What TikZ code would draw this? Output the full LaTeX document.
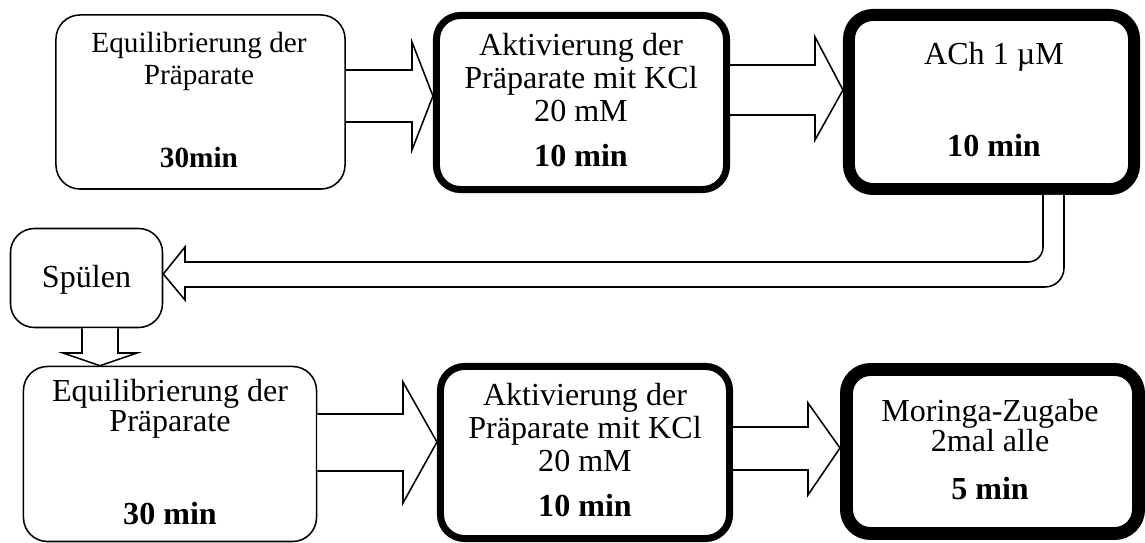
\documentclass[tikz,border=0pt]{standalone}
\usepackage{fontspec}
\setmainfont{Liberation Serif}
\usepackage{tikz}
\usetikzlibrary{calc}

\begin{document}
\begin{tikzpicture}[x=0.025cm, y=-0.025cm,
    every node/.style={font=\fontsize{22.8}{23.5}\selectfont},
    stepbox/.style={draw, fill=white, rounded corners=0.6cm, inner sep=0pt},
    steptext/.style={align=center, anchor=base, inner sep=0pt},
    smalltext/.style={font=\fontsize{20.8}{22.8}\selectfont},
    tighttext/.style={font=\fontsize{22.8}{21.5}\selectfont},
    blockarrow/.style={draw, fill=white, line width=1.1pt, line join=miter}]
  \useasboundingbox (0,0) rectangle (1145,543);
  % boxes
  \node[stepbox, line width=1.1pt, minimum width=7.225cm, minimum height=4.35cm] (equi1) at (200.5,102) {};
  \node[stepbox, line width=5pt, minimum width=7.25cm, minimum height=4.35cm] (kcl1) at (581.5,102.5) {};
  \node[stepbox, line width=8.5pt, minimum width=7.125cm, minimum height=4.35cm] (ach) at (991.5,102) {};
  \node[stepbox, line width=1.1pt, minimum width=3.8cm, minimum height=2.475cm] (spuelen) at (86.5,278) {};
  \node[stepbox, line width=1.1pt, minimum width=7.325cm, minimum height=4.375cm] (equi2) at (170,454) {};
  \node[stepbox, line width=5pt, minimum width=7.225cm, minimum height=4.3cm] (kcl2) at (585,452.5) {};
  \node[stepbox, line width=9.2pt, minimum width=7.3cm, minimum height=4.1cm] (moringa) at (992.5,451.5) {};
  % texts (base = last line)
  \node[steptext, smalltext] (equi1txt) at (199,85) {Equilibrierung der\\Präparate};
  \node[steptext, smalltext] (equi1min) at (199,168) {\textbf{30min}};
  \node[steptext] (kcl1txt) at (581,122) {Aktivierung der\\Präparate mit KCl\\20 mM};
  \node[steptext] (kcl1min) at (581,167) {\textbf{10 min}};
  \node[steptext] (achtxt) at (994,65) {ACh 1 µM};
  \node[steptext] (achmin) at (994,157) {\textbf{10 min}};
  \node[steptext] (spuelentxt) at (86.5,288) {Spülen};
  \node[steptext, tighttext] (equi2txt) at (170,432) {Equilibrierung der\\Präparate};
  \node[steptext] (equi2min) at (170,525) {\textbf{30 min}};
  \node[steptext] (kcl2txt) at (585,472) {Aktivierung der\\Präparate mit KCl\\20 mM};
  \node[steptext] (kcl2min) at (585,517) {\textbf{10 min}};
  \node[steptext, tighttext] (moringatxt) at (990,452) {Moringa-Zugabe\\2mal alle};
  \node[steptext] (moringamin) at (990,500) {\textbf{5 min}};
  % block arrows
  \draw[blockarrow] (equi1.east |- 0,70) -- (412,70) -- (412,42) -- (kcl1.west |- 0,96)
    -- (412,150) -- (412,122) -- (equi1.east |- 0,122);
  \draw[blockarrow] (kcl1.east |- 0,65) -- (815,65) -- (815,37) -- (ach.west |- 0,90)
    -- (815,140) -- (815,115) -- (kcl1.east |- 0,115);
  \draw[blockarrow] (1064,0 |- ach.south) [rounded corners=0.475cm] -- (1064,287) [sharp corners]
    -- (185,287) -- (185,300) -- (spuelen.east |- 0,274) -- (185,247) -- (185,262)
    [rounded corners=0.375cm] -- (1043,262) [sharp corners] -- (1043,0 |- ach.south);
  \draw[blockarrow] (82,0 |- spuelen.south) -- (82,353) -- (63,353) -- (100,0 |- equi2.north)
    -- (137,353) -- (118,353) -- (118,0 |- spuelen.south);
  \draw[blockarrow] (equi2.east |- 0,414) -- (403,414) -- (403,382) -- (kcl2.west |- 0,442)
    -- (403,503) -- (403,471) -- (equi2.east |- 0,471);
  \draw[blockarrow] (kcl2.east |- 0,427) -- (808,427) -- (808,403) -- (moringa.west |- 0,448)
    -- (808,495) -- (808,470) -- (kcl2.east |- 0,470);
\end{tikzpicture}
\end{document}
